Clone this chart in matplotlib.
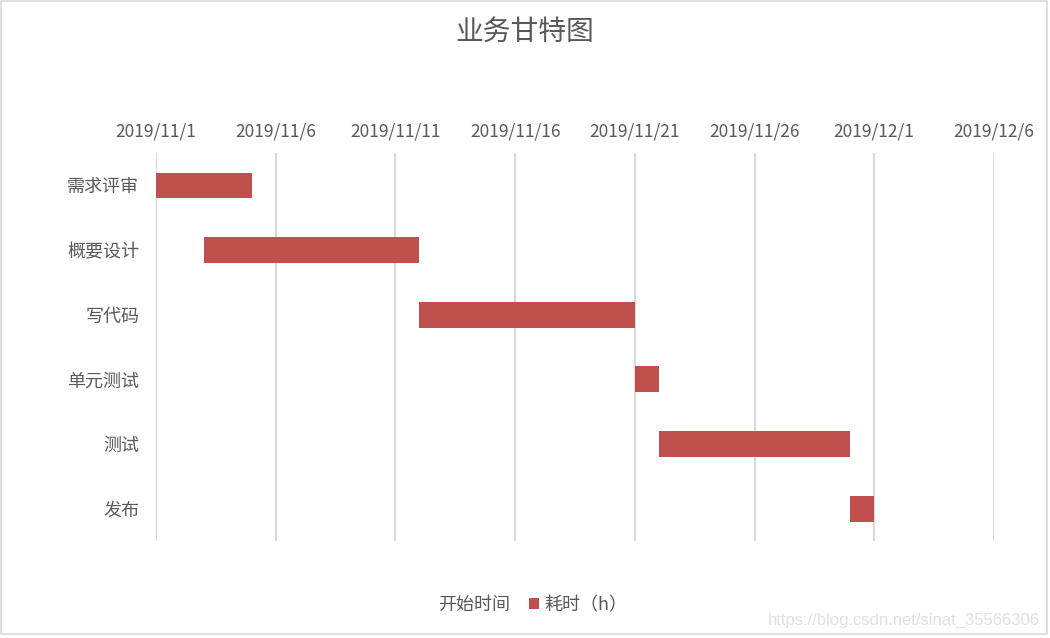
import matplotlib
matplotlib.use("Agg")
import matplotlib.pyplot as plt
import matplotlib.dates as mdates
from matplotlib.patches import Rectangle
import pandas as pd

plt.rcParams['font.family'] = ['Noto Sans CJK SC', 'DejaVu Sans']

tasks = ["需求评审", "概要设计", "写代码", "单元测试", "测试", "发布"]
start_dates = ["2019-11-01", "2019-11-03", "2019-11-12", "2019-11-21", "2019-11-22", "2019-11-30"]
durations = [4, 9, 9, 1, 8, 1]
tick_dates = ["2019-11-01", "2019-11-06", "2019-11-11", "2019-11-16", "2019-11-21",
              "2019-11-26", "2019-12-01", "2019-12-06"]
tick_labels = ["2019/11/1", "2019/11/6", "2019/11/11", "2019/11/16", "2019/11/21",
               "2019/11/26", "2019/12/1", "2019/12/6"]

starts = mdates.date2num(pd.to_datetime(start_dates))
ticks = mdates.date2num(pd.to_datetime(tick_dates))

fig = plt.figure(figsize=(10.5, 6.38), dpi=100)
ax = fig.add_axes([0.1486, 0.152, 0.798, 0.608])

y = list(range(len(tasks)))
ax.barh(y, starts - ticks[0], left=ticks[0], height=0.4, color='none', label='开始时间')
ax.barh(y, durations, left=starts, height=0.4, color='#C0504D', label='耗时（h）', zorder=3)

ax.set_xlim(ticks[0], ticks[-1])
ax.set_ylim(len(tasks) - 0.5, -0.5)
ax.set_yticks(y)
ax.set_yticklabels(tasks)
ax.set_xticks(ticks)
ax.set_xticklabels(tick_labels)
ax.xaxis.tick_top()
ax.tick_params(axis='both', length=0, colors='#595959')
ax.tick_params(axis='x', pad=9, labelsize=12.5)
ax.tick_params(axis='y', pad=12, labelsize=13)
ax.grid(axis='x', color='#D9D9D9', linewidth=1.5, zorder=0)
ax.set_axisbelow(True)
for s in ax.spines.values():
    s.set_visible(False)

fig.text(0.5, 0.948, "业务甘特图", ha='center', va='center', fontsize=20, color='#595959')

leg = fig.legend(loc='center', bbox_to_anchor=(0.5, 0.052), ncol=2, frameon=False,
                 fontsize=13, handlelength=0.6, handleheight=0.6, handletextpad=0.3,
                 columnspacing=1.0, labelcolor='#595959')

fig.text(0.99, 0.027, "https://blog.csdn.net/sinat_35566306", ha='right', va='center',
         fontsize=12, color='#E0E0E0', family=['Liberation Sans'])

fig.patches.append(Rectangle((0.001, 0.006), 0.996, 0.992, transform=fig.transFigure,
                             fill=False, edgecolor='#D9D9D9', linewidth=1.2))

fig.savefig("out.png", dpi=100)
